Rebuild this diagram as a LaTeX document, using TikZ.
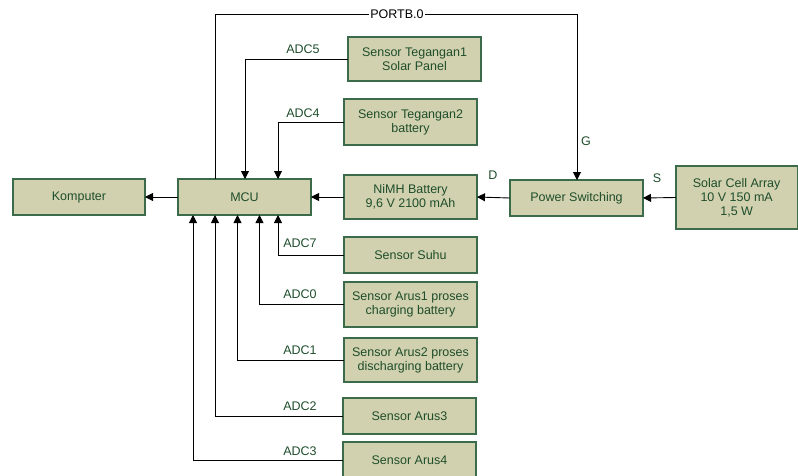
\documentclass[tikz,border=0pt]{standalone}
\usepackage{fontspec}
\setmainfont{Liberation Sans}
\usetikzlibrary{arrows.meta}
\definecolor{boxfill}{HTML}{D1D1AF}
\definecolor{boxline}{HTML}{3C6B4B}
\definecolor{boxtext}{HTML}{1E4D2B}
\tikzset{
  blk/.style={draw=boxline, line width=1.3pt, fill=boxfill, text=boxtext,
    inner sep=0pt, outer sep=0pt, align=center,
    font=\fontsize{12.5}{14}\selectfont},
  conn/.style={draw=black, line width=0.9pt},
  arr/.style={conn, -{Triangle[length=8pt,width=8pt]}},
  lbl/.style={text=boxtext, font=\fontsize{12.5}{14}\selectfont, inner sep=0pt},
}
\newcommand{\blkat}[7]{% name, x1, y1, x2, y2, text
  \node[blk, minimum width={#4-#2}, minimum height={#5-#3}] (#1) at ({(#2+#4)/2},{(#3+#5)/2}) {#6#7};
}
\begin{document}
\begin{tikzpicture}[x=1pt,y=-1pt]
\useasboundingbox (0,0) rectangle (798,475);
\begin{scope}
\clip (0,0) rectangle (798,475);

% blocks
\blkat{kom}{13}{179}{145}{215}{Komputer}{}
\blkat{mcu}{178}{179}{311}{215}{MCU}{}
\blkat{tegA}{348}{37}{481}{81}{Sensor Tegangan1\\Solar Panel}{}
\blkat{tegB}{344}{99}{477}{145}{Sensor Tegangan2\\battery}{}
\blkat{nimh}{344}{175}{477}{219}{NiMH Battery\\9,6 V 2100 mAh}{}
\blkat{psw}{510}{180}{643}{216}{Power Switching}{}
\blkat{solar}{676}{166}{797.3}{229}{Solar Cell Array\\10 V 150 mA\\1,5 W}{}
\blkat{suhu}{344}{237}{477}{273}{Sensor Suhu}{}
\blkat{arusA}{344}{282}{477}{327}{Sensor Arus1 proses\\charging battery}{}
\blkat{arusB}{344}{338}{477}{382}{Sensor Arus2 proses\\discharging battery}{}
\blkat{arusC}{343}{398}{476}{434}{Sensor Arus3}{}
\blkat{arusD}{343}{442}{476}{478}{Sensor Arus4}{}

% control line from the MCU to the switch gate
\coordinate (pA) at (215,14);
\coordinate (pB) at (577,14);
\draw[conn] (215,0 |- mcu.north) -- (pA) -- (pB);
\draw[arr] (pB) -- (577,0 |- psw.north);
\node[fill=white, inner sep=1pt, font=\fontsize{12.5}{14}\selectfont] (portb) at (397,14) {PORTB.0};

% power path
\draw[arr] (solar.west) -- (psw.east);
\draw[arr] (psw.west) -- (nimh.east);
\draw[arr] (nimh.west |- mcu.east) -- (mcu.east);
\draw[arr] (mcu.west) -- (kom.east);

% voltage sensors into the top of the MCU
\draw[arr] (tegA.west) -| (245,0 |- mcu.north);
\draw[arr] (tegB.west) -| (278,0 |- mcu.north);

% sensors into the bottom of the MCU
\draw[arr] (suhu.west) -| (278,0 |- mcu.south);
\draw[arr] (arusA.west) -| (259.5,0 |- mcu.south);
\draw[arr] (arusB.west) -| (237.5,0 |- mcu.south);
\draw[arr] (arusC.west) -| (215,0 |- mcu.south);
\draw[arr] (arusD.west) -| (193,0 |- mcu.south);

% pin labels
\node[lbl] (l5) at (303,49) {ADC5};
\node[lbl] (l4) at (303,113) {ADC4};
\node[lbl] (l7) at (300,243) {ADC7};
\node[lbl] (l0) at (300,294) {ADC0};
\node[lbl] (l1) at (300,350) {ADC1};
\node[lbl] (l2) at (300,406) {ADC2};
\node[lbl] (l3) at (300,451) {ADC3};
\node[lbl] (lg) at (586,141) {G};
\node[lbl] (ld) at (493,175) {D};
\node[lbl] (ls) at (657,178) {S};
\end{scope}
\end{tikzpicture}
\end{document}
